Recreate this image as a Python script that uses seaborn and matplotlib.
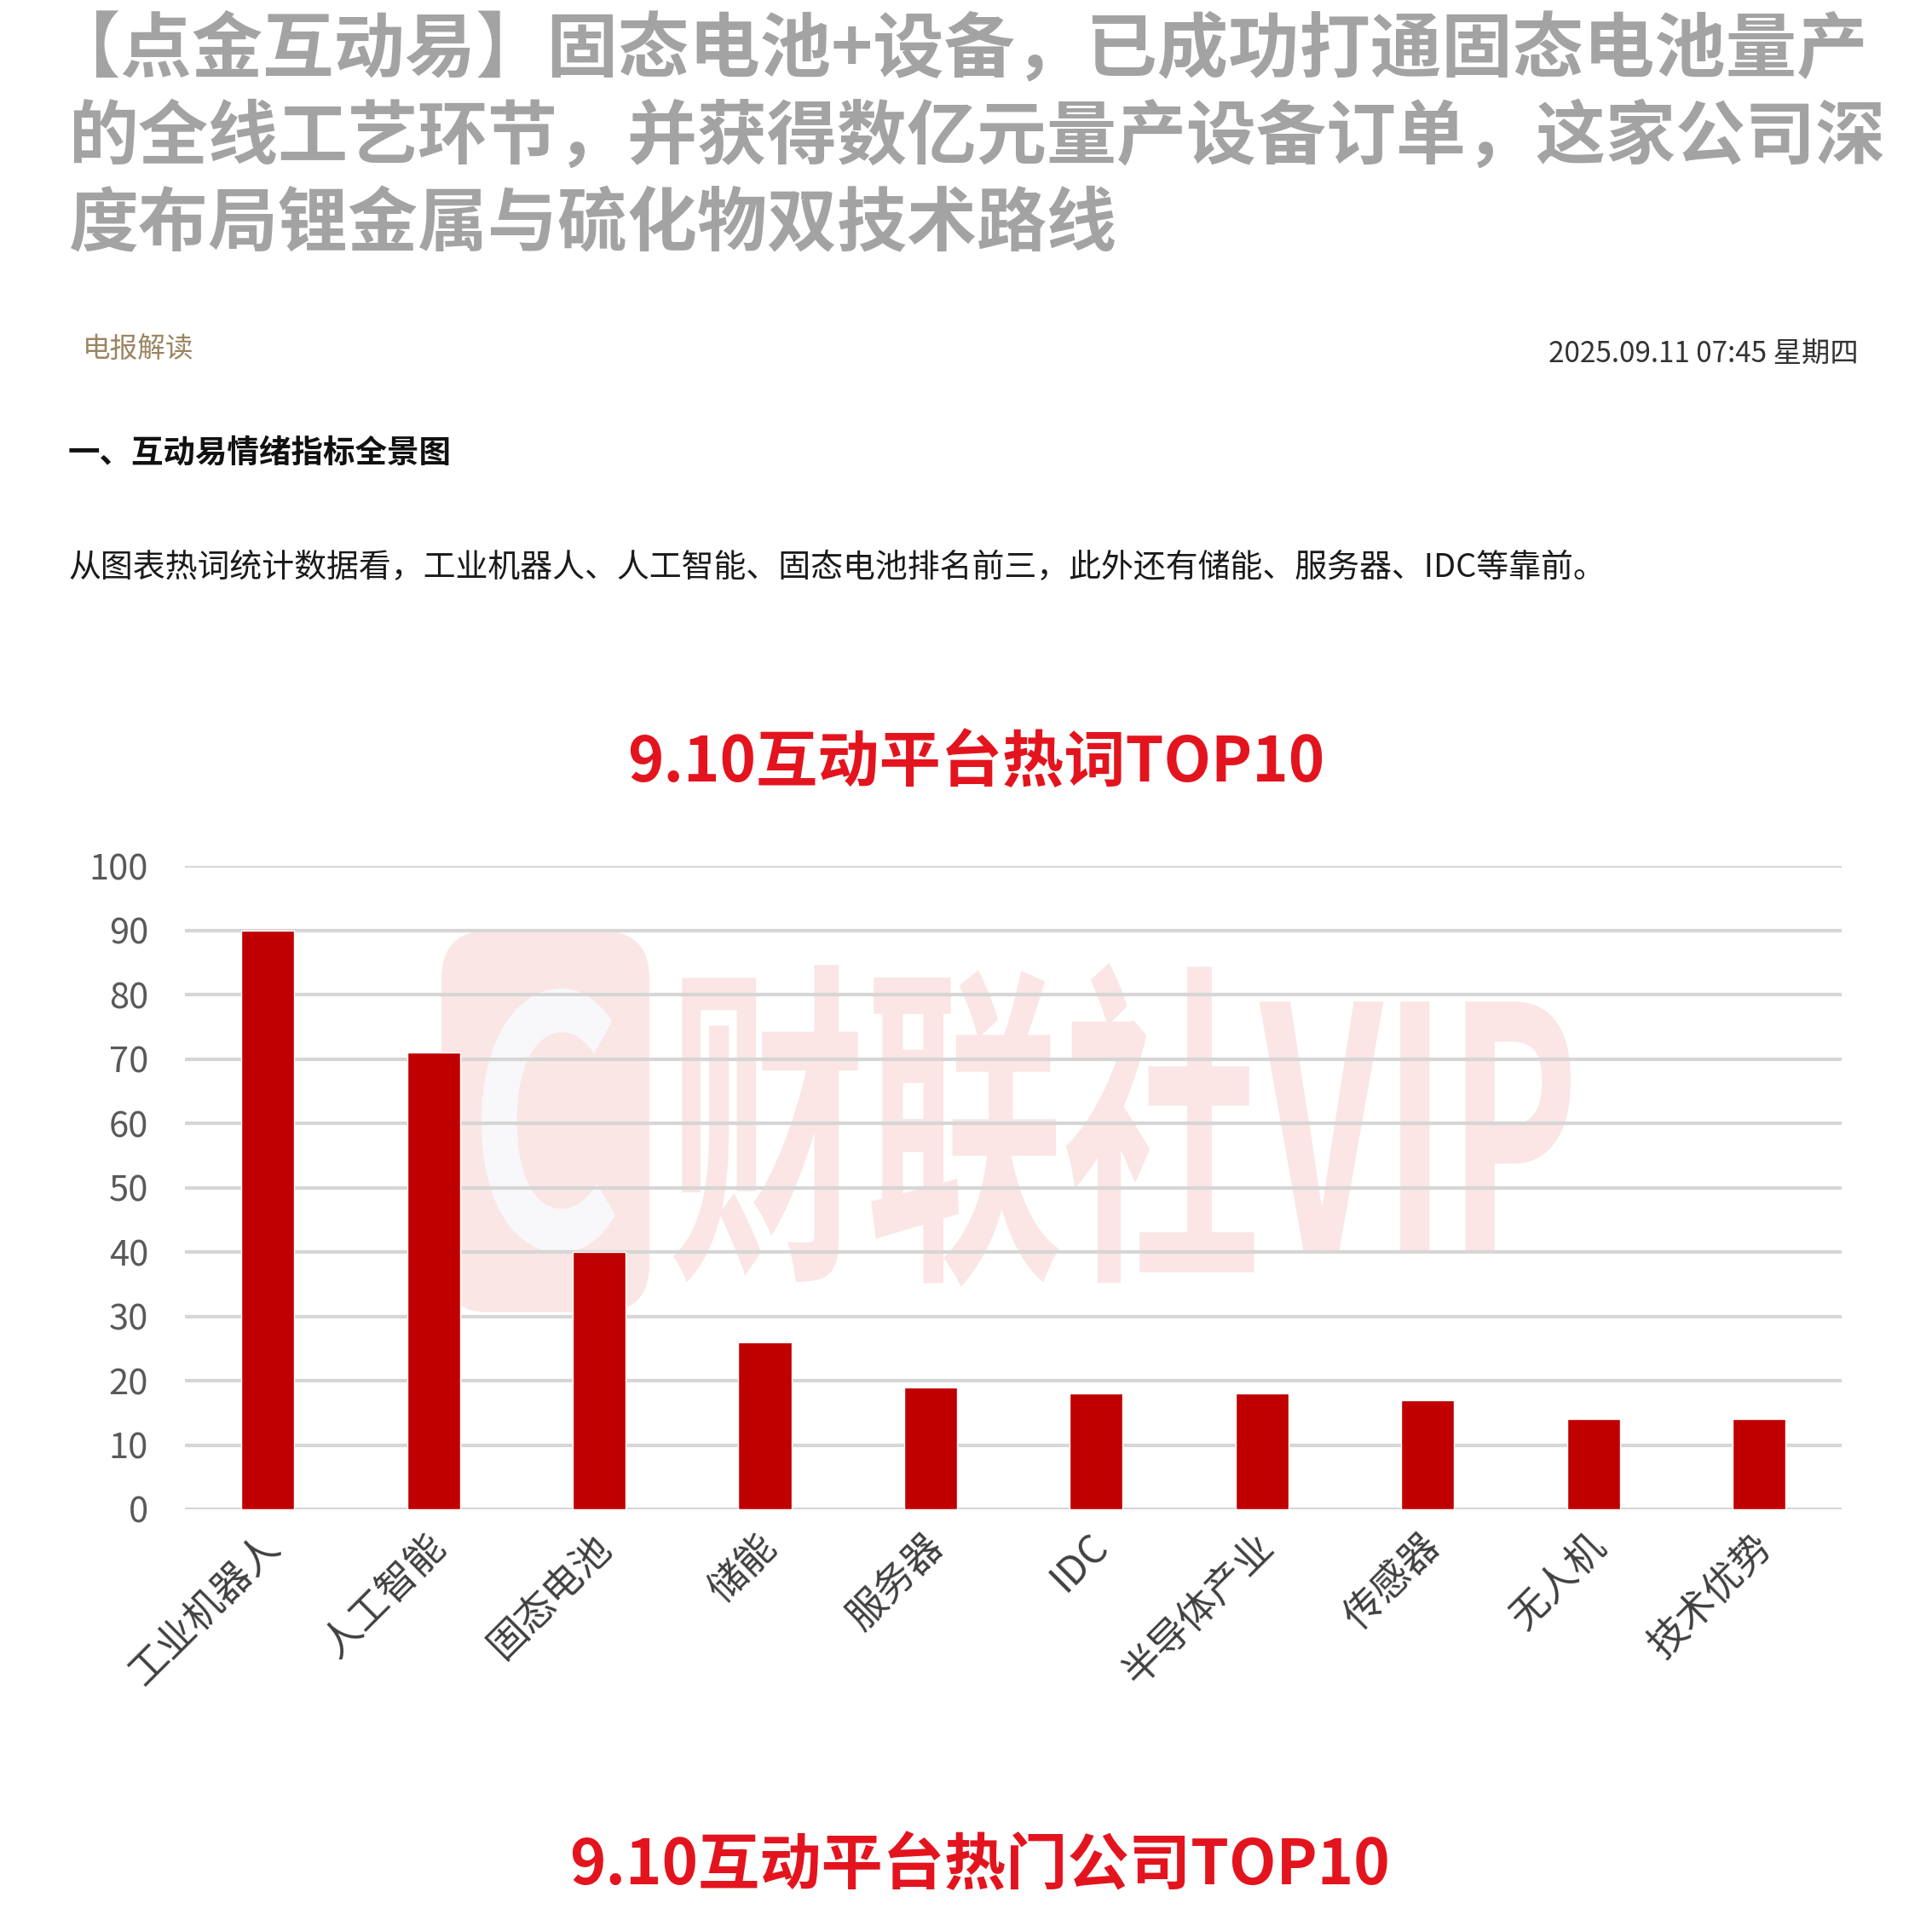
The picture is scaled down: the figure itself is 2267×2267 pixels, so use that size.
import numpy as np
import pandas as pd
import seaborn as sns
import matplotlib.pyplot as plt
from matplotlib.textpath import TextPath
from matplotlib.font_manager import FontProperties
from matplotlib.patches import PathPatch, FancyBboxPatch
from matplotlib.transforms import Affine2D, ScaledTranslation

# data
categories = ['工业机器人', '人工智能', '固态电池', '储能', '服务器', 'IDC', '半导体产业', '传感器', '无人机', '技术优势']
counts = [90, 71, 40, 26, 19, 18, 18, 17, 14, 14]
yticks = list(range(0, 101, 10))

header_lines = ['【点金互动易】固态电池+设备，已成功打通固态电池量产',
                '的全线工艺环节，并获得数亿元量产设备订单，这家公司深',
                '度布局锂金属与硫化物双技术路线']
tag_text = '电报解读'
date_text = '2025.09.11 07:45 星期四'
section_text = '一、互动易情绪指标全景图'
para_text = '从图表热词统计数据看，工业机器人、人工智能、固态电池排名前三，此外还有储能、服务器、IDC等靠前。'
chart_title = '9.10互动平台热词TOP10'
next_title = '9.10互动平台热门公司TOP10'
watermark = '财联社VIP'

sns.set_theme(style='white')
plt.rcParams['font.family'] = ['Noto Sans CJK SC', 'DejaVu Sans']

W = 2267
fig = plt.figure(figsize=(22.67, 22.67), dpi=100)
fig.patch.set_facecolor('white')

def fy(px):
    return 1 - px / W

def fx(px):
    return px / W

# page header
header_x = [58, 80, 80]
header_size = [60, 59, 59]
for i, line in enumerate(header_lines):
    fig.text(fx(header_x[i]), fy(59 + i * 103), line, fontsize=header_size[i], fontweight='bold',
             color='#a3a3a3', va='center', ha='left')
fig.text(fx(97), fy(411), tag_text, fontsize=23.5, color='#9b8461', va='center')
fig.text(fx(2181), fy(416), date_text, fontsize=24, color='#333333', va='center', ha='right')
fig.text(fx(80), fy(531), section_text, fontsize=27, fontweight='bold', color='#111111', va='center')
fig.text(fx(80), fy(667), para_text, fontsize=27.3, color='#1a1a1a', va='center')

fig.text(0.505, fy(896), chart_title, fontsize=52, fontweight='bold', color='#e3141e',
         va='center', ha='center')
fig.text(0.507, fy(2190), next_title, fontsize=52, fontweight='bold', color='#e3141e',
         va='center', ha='center')


# stretched watermark drawn behind the chart
def stretched_text(s, x0, x1, ytop, ybot, color, z):
    tp = TextPath((0, 0), s, size=1, prop=FontProperties(family='Noto Sans CJK SC', weight='bold'))
    b = tp.get_extents()
    sx = (fx(x1) - fx(x0)) / b.width
    sy = (fy(ytop) - fy(ybot)) / b.height
    tr = (Affine2D().translate(-b.x0, -b.y0).scale(sx, sy)
          .translate(fx(x0), fy(ybot)) + fig.transFigure)
    fig.add_artist(PathPatch(tp, transform=tr, fc=color, ec='none', zorder=z))


fig.add_artist(FancyBboxPatch((fx(518), fy(1540)), fx(762) - fx(518), fy(1092) - fy(1540),
                              boxstyle='round,pad=0,rounding_size=0.025', transform=fig.transFigure,
                              fc='#fbe6e6', ec='none', zorder=-2))
stretched_text('C', 565, 722, 1160, 1470, '#f8f8fb', -1)
stretched_text(watermark, 790, 1843, 1130, 1510, '#fbe5e5', -1)

# chart
ax = fig.add_axes([0.0957, 0.2188, 0.8577, 0.3329])
ax.set_facecolor('none')
df = pd.DataFrame({'word': categories, 'count': counts})
sns.barplot(data=df, x='word', y='count', color='#c00000', saturation=1, width=0.32,
            ax=ax, zorder=3)

ax.set_xlim(-0.5, len(categories) - 0.5)
ax.set_ylim(0, 100)
ax.set_yticks(yticks)
ax.yaxis.grid(True, color='#d6d6d6', linewidth=3)
for line in ax.get_ygridlines():
    line.set_zorder(2)
for s in ax.spines.values():
    s.set_visible(False)
ax.set_xlabel('')
ax.set_ylabel('')
ax.tick_params(axis='y', labelsize=30, labelcolor='#595959', length=0, pad=31)
ax.tick_params(axis='x', labelsize=33, labelcolor='#404040', length=0, pad=14)
shift = ScaledTranslation(-0.1, 0, fig.dpi_scale_trans)
for lab in ax.get_xticklabels():
    lab.set_rotation(45)
    lab.set_ha('right')
    lab.set_rotation_mode('anchor')
    lab.set_transform(lab.get_transform() + shift)

fig.savefig('out.png', dpi=100, facecolor='white')
